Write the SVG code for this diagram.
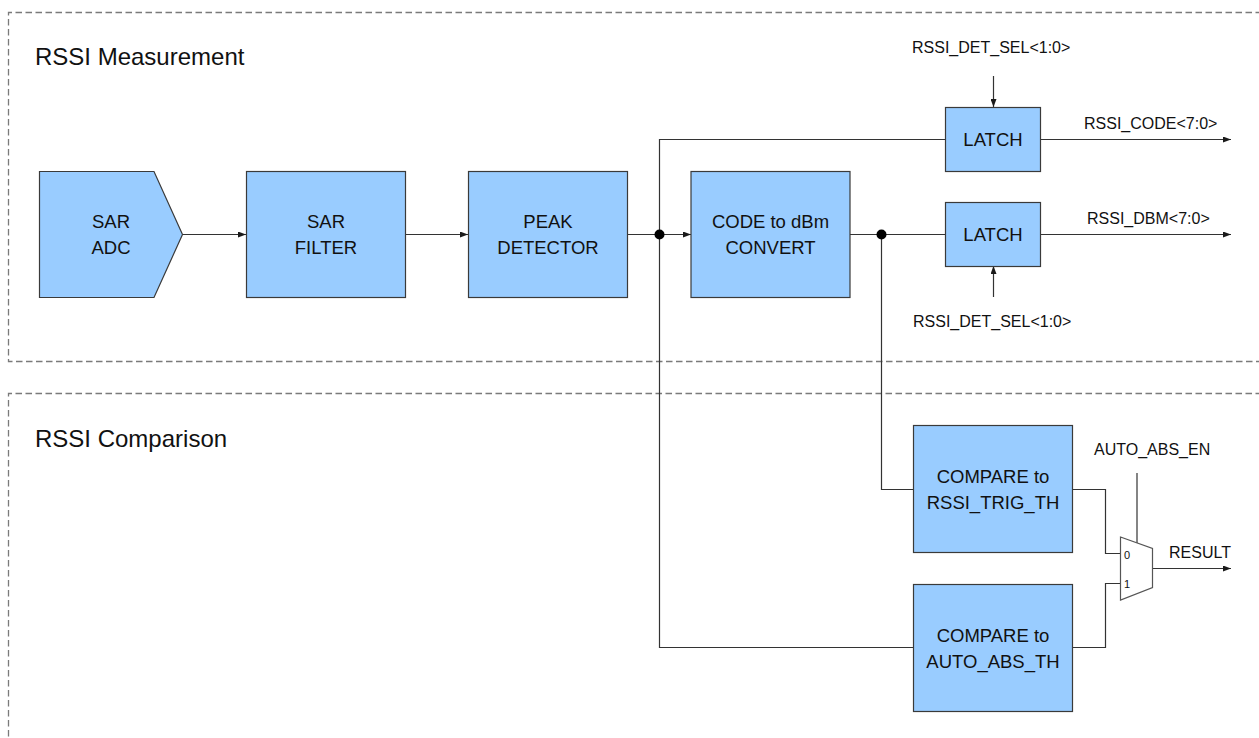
<svg xmlns="http://www.w3.org/2000/svg" width="1259" height="738" viewBox="0 0 1259 738">
  <defs>
    <marker id="arrow" viewBox="0 0 8 6" markerWidth="8" markerHeight="6" refX="8" refY="3" orient="auto" markerUnits="userSpaceOnUse">
      <path d="M0,0 L8,3 L0,6 z" fill="#1a1a1a"/>
    </marker>
    <style>
      .frame { fill: none; stroke: #7a7a7a; stroke-width: 1.3; stroke-dasharray: 6.5 3.5; }
      .block { fill: #99ccff; stroke: #3a3a3a; stroke-width: 1.2; }
      .mux { fill: #ffffff; stroke: #555555; stroke-width: 1.2; }
      .wire { fill: none; stroke: #333333; stroke-width: 1.2; }
      .dot { fill: #000000; }
      .title { font-family: "Liberation Sans", Arial, sans-serif; font-size: 24px; fill: #111111; }
      .blk { font-family: "Liberation Sans", Arial, sans-serif; font-size: 18.5px; fill: #111111; text-anchor: middle; }
      .sig { font-family: "Liberation Sans", Arial, sans-serif; font-size: 16px; fill: #111111; }
      .pin { font-family: "Liberation Sans", Arial, sans-serif; font-size: 11px; fill: #111111; }
    </style>
  </defs>

  <rect width="1259" height="738" fill="#ffffff"/>

  <!-- section frames -->
  <g id="frame-measurement">
    <path class="frame" d="M1262,12.5 H8.5 V361.5 H1262"/>
    <text class="title" x="35" y="65">RSSI Measurement</text>
  </g>
  <g id="frame-comparison">
    <path class="frame" d="M1262,393.5 H8.5 V745"/>
    <text class="title" x="35" y="447">RSSI Comparison</text>
  </g>

  <!-- connectors -->
  <g id="connectors">
    <line class="wire" x1="183" y1="234.5" x2="246" y2="234.5" marker-end="url(#arrow)"/>
    <line class="wire" x1="406" y1="234.5" x2="468" y2="234.5" marker-end="url(#arrow)"/>
    <line class="wire" x1="628" y1="234.5" x2="691" y2="234.5" marker-end="url(#arrow)"/>
    <!-- peak detector fan-out -->
    <path class="wire" d="M945,139.5 H659.5 V647.5 H913"/>
    <!-- dBm fan-out -->
    <line class="wire" x1="850" y1="234.5" x2="945" y2="234.5"/>
    <path class="wire" d="M881.5,234.5 V489.5 H913"/>
    <!-- latch controls and outputs -->
    <line class="wire" x1="993.5" y1="76" x2="993.5" y2="107" marker-end="url(#arrow)"/>
    <line class="wire" x1="993.5" y1="297" x2="993.5" y2="266" marker-end="url(#arrow)"/>
    <line class="wire" x1="1041" y1="139.5" x2="1231" y2="139.5" marker-end="url(#arrow)"/>
    <line class="wire" x1="1041" y1="234.5" x2="1231" y2="234.5" marker-end="url(#arrow)"/>
    <!-- compare outputs to mux -->
    <path class="wire" d="M1072,489.5 H1105.5 V553.5 H1120"/>
    <path class="wire" d="M1072,647.5 H1105.5 V583.5 H1120"/>
    <line class="wire" x1="1137" y1="473" x2="1137" y2="543"/>
    <line class="wire" x1="1152" y1="568.5" x2="1231" y2="568.5" marker-end="url(#arrow)"/>
    <circle class="dot" cx="659.5" cy="234.5" r="5"/>
    <circle class="dot" cx="881.5" cy="234.5" r="5"/>
  </g>

  <!-- signal labels -->
  <g id="labels">
    <text class="sig" x="912" y="53">RSSI_DET_SEL&lt;1:0&gt;</text>
    <text class="sig" x="1084" y="129">RSSI_CODE&lt;7:0&gt;</text>
    <text class="sig" x="1087" y="224">RSSI_DBM&lt;7:0&gt;</text>
    <text class="sig" x="913" y="327">RSSI_DET_SEL&lt;1:0&gt;</text>
    <text class="sig" x="1094" y="455">AUTO_ABS_EN</text>
    <text class="sig" x="1169" y="558">RESULT</text>
  </g>

  <!-- blocks -->
  <g id="sar-adc">
    <polygon class="block" points="39.5,171.5 154,171.5 182.5,234.5 154,297.5 39.5,297.5"/>
    <text class="blk" x="111" y="228">SAR</text>
    <text class="blk" x="111" y="254">ADC</text>
  </g>
  <g id="sar-filter">
    <rect class="block" x="246.5" y="171.5" width="159" height="126"/>
    <text class="blk" x="326" y="228">SAR</text>
    <text class="blk" x="326" y="254">FILTER</text>
  </g>
  <g id="peak-detector">
    <rect class="block" x="468.5" y="171.5" width="159" height="126"/>
    <text class="blk" x="548" y="228">PEAK</text>
    <text class="blk" x="548" y="254">DETECTOR</text>
  </g>
  <g id="code-to-dbm">
    <rect class="block" x="691" y="171.5" width="159" height="126"/>
    <text class="blk" x="770.5" y="228">CODE to dBm</text>
    <text class="blk" x="770.5" y="254">CONVERT</text>
  </g>
  <g id="latch-code">
    <rect class="block" x="945.5" y="107.5" width="95" height="64"/>
    <text class="blk" x="993" y="146">LATCH</text>
  </g>
  <g id="latch-dbm">
    <rect class="block" x="945.5" y="202.5" width="95" height="64"/>
    <text class="blk" x="993" y="241">LATCH</text>
  </g>
  <g id="compare-trig">
    <rect class="block" x="913.5" y="425.5" width="159" height="127"/>
    <text class="blk" x="993" y="483">COMPARE to</text>
    <text class="blk" x="993" y="509">RSSI_TRIG_TH</text>
  </g>
  <g id="compare-abs">
    <rect class="block" x="913.5" y="584.5" width="159" height="127"/>
    <text class="blk" x="993" y="642">COMPARE to</text>
    <text class="blk" x="993" y="668">AUTO_ABS_TH</text>
  </g>
  <g id="result-mux">
    <polygon class="mux" points="1120.5,537 1152.5,548.5 1152.5,587.5 1120.5,600"/>
    <text class="pin" x="1124" y="559">0</text>
    <text class="pin" x="1124" y="588">1</text>
  </g>
</svg>
